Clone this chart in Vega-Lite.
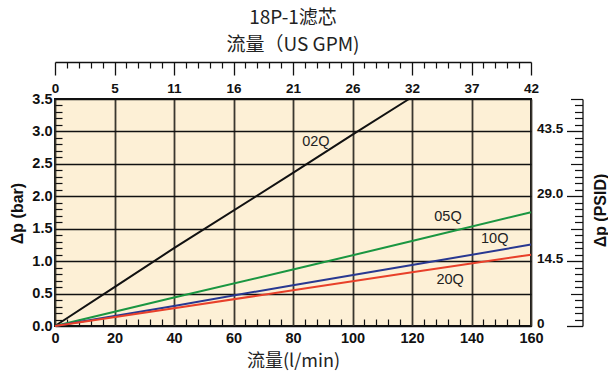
{
  "$schema": "https://vega.github.io/schema/vega-lite/v6.json",
  "width": 476,
  "height": 227,
  "autosize": {"type": "none"},
  "padding": {"left": 55, "top": 99, "right": 77, "bottom": 46},
  "background": "white",
  "view": {"fill": "#fdf0d6", "stroke": "#111111", "strokeWidth": 2},
  "title": {
    "text": ["18P-1滤芯", "流量（US GPM)"],
    "font": "Noto Sans CJK SC",
    "fontSize": 19,
    "fontWeight": "normal",
    "color": "#222222",
    "lineHeight": 27,
    "anchor": "middle",
    "offset": 6
  },
  "datasets": {
    "lines": [
      {"series": "02Q", "flow": 0, "dp": 0},
      {"series": "02Q", "flow": 20, "dp": 0.6},
      {"series": "02Q", "flow": 40, "dp": 1.2},
      {"series": "02Q", "flow": 80, "dp": 2.36},
      {"series": "02Q", "flow": 100, "dp": 2.95},
      {"series": "02Q", "flow": 119, "dp": 3.5},
      {"series": "05Q", "flow": 0, "dp": 0},
      {"series": "05Q", "flow": 40, "dp": 0.44},
      {"series": "05Q", "flow": 80, "dp": 0.87},
      {"series": "05Q", "flow": 120, "dp": 1.31},
      {"series": "05Q", "flow": 160, "dp": 1.755},
      {"series": "10Q", "flow": 0, "dp": 0},
      {"series": "10Q", "flow": 40, "dp": 0.31},
      {"series": "10Q", "flow": 80, "dp": 0.63},
      {"series": "10Q", "flow": 120, "dp": 0.94},
      {"series": "10Q", "flow": 160, "dp": 1.255},
      {"series": "20Q", "flow": 0, "dp": 0},
      {"series": "20Q", "flow": 40, "dp": 0.275},
      {"series": "20Q", "flow": 80, "dp": 0.55},
      {"series": "20Q", "flow": 120, "dp": 0.83},
      {"series": "20Q", "flow": 160, "dp": 1.1}
    ],
    "labels": [
      {"series": "02Q", "flow": 87.7, "dp": 2.83},
      {"series": "05Q", "flow": 132.1, "dp": 1.68},
      {"series": "10Q", "flow": 147.8, "dp": 1.34},
      {"series": "20Q", "flow": 132.8, "dp": 0.71}
    ]
  },
  "resolve": {"axis": {"x": "independent", "y": "independent"}},
  "layer": [
    {
      "data": {"name": "lines"},
      "mark": {"type": "line", "strokeWidth": 2},
      "encoding": {
        "x": {
          "field": "flow", "type": "quantitative",
          "scale": {"domain": [0, 160], "nice": false, "zero": false},
          "axis": {
            "orient": "bottom",
            "values": [0, 20, 40, 60, 80, 100, 120, 140, 160],
            "grid": true, "gridColor": "#3a372f", "gridWidth": 1.8,
            "ticks": false, "domain": false,
            "labelFont": "Liberation Sans", "labelFontSize": 14.5, "labelFontWeight": "bold", "labelColor": "#111111",
            "labelPadding": 5.5, "labelFlush": false, "labelOverlap": false,
            "title": "流量(l/min)", "titleFont": "Noto Sans CJK SC", "titleFontSize": 18, "titleFontWeight": "normal",
            "titleColor": "#222222", "titleY": 35, "titleBaseline": "middle"
          }
        },
        "y": {
          "field": "dp", "type": "quantitative",
          "scale": {"domain": [0, 3.5], "nice": false},
          "axis": {
            "orient": "left",
            "values": [0, 0.5, 1, 1.5, 2, 2.5, 3, 3.5],
            "format": ".1f",
            "grid": true, "gridColor": "#111111", "gridWidth": 1.4,
            "ticks": false, "domain": false,
            "labelFont": "Liberation Sans", "labelFontSize": 14.5, "labelFontWeight": "bold", "labelColor": "#111111",
            "labelPadding": 3, "labelFlush": false, "labelOverlap": false,
            "title": "Δp (bar)", "titleFont": "Liberation Sans", "titleFontSize": 16, "titleFontWeight": "bold",
            "titleColor": "#111111", "titleAngle": -90, "titleX": -38, "titleY": 114,
            "titleAlign": "center", "titleBaseline": "middle"
          }
        },
        "color": {
          "field": "series", "type": "nominal",
          "scale": {"domain": ["02Q", "05Q", "10Q", "20Q"], "range": ["#111111", "#1a9641", "#283891", "#e8402a"]},
          "legend": null
        }
      }
    },
    {
      "data": {"name": "labels"},
      "mark": {"type": "text", "font": "Liberation Sans", "fontSize": 14.5, "color": "#222222"},
      "encoding": {
        "x": {
          "field": "flow", "type": "quantitative",
          "scale": {"domain": [0, 160], "nice": false, "zero": false},
          "axis": {
            "orient": "bottom",
            "values": [4, 8, 12, 16, 24, 28, 32, 36, 44, 48, 52, 56, 64, 68, 72, 76, 84, 88, 92, 96, 104, 108, 112, 116, 124, 128, 132, 136, 144, 148, 152, 156],
            "grid": false, "labels": false, "domain": false,
            "ticks": true, "tickSize": -7, "tickColor": "#111111", "tickWidth": 1.2,
            "title": null
          }
        },
        "y": {
          "field": "dp", "type": "quantitative",
          "scale": {"domain": [0, 3.5], "nice": false},
          "axis": {
            "orient": "left",
            "values": [0.1, 0.2, 0.3, 0.4, 0.6, 0.7, 0.8, 0.9, 1.1, 1.2, 1.3, 1.4, 1.6, 1.7, 1.8, 1.9, 2.1, 2.2, 2.3, 2.4, 2.6, 2.7, 2.8, 2.9, 3.1, 3.2, 3.3, 3.4],
            "grid": false, "labels": false, "domain": false,
            "ticks": true, "tickSize": -7, "tickColor": "#111111", "tickWidth": 1.2,
            "title": null
          }
        },
        "text": {"field": "series", "type": "nominal"}
      }
    },
    {
      "data": {"name": "lines"},
      "mark": {"type": "line", "opacity": 0},
      "encoding": {
        "x": {
          "field": "flow", "type": "quantitative",
          "scale": {"domain": [0, 160], "nice": false, "zero": false},
          "axis": {
            "orient": "top", "offset": 37,
            "values": [0, 20, 40, 60, 80, 100, 120, 140, 160],
            "labelExpr": "'' + round(datum.value * 0.264172)",
            "grid": false, "ticks": false,
            "domain": true, "domainColor": "#111111", "domainWidth": 1.3,
            "labelFont": "Liberation Sans", "labelFontSize": 13.5, "labelFontWeight": "bold", "labelColor": "#111111",
            "labelPadding": -30, "labelBaseline": "alphabetic", "labelFlush": false, "labelOverlap": false,
            "title": null
          }
        },
        "y": {
          "field": "dp", "type": "quantitative",
          "scale": {"domain": [0, 3.5], "nice": false},
          "axis": {
            "orient": "right", "offset": 51.5,
            "values": [0, 1, 2, 3],
            "labelExpr": "datum.value == 0 ? '0' : format(datum.value * 14.5, '.1f')",
            "grid": false, "ticks": false,
            "domain": true, "domainColor": "#111111", "domainWidth": 1.3,
            "labelFont": "Liberation Sans", "labelFontSize": 13.5, "labelFontWeight": "bold", "labelColor": "#111111",
            "labelAlign": "left", "labelPadding": -46, "labelOffset": -2.5, "labelFlush": false, "labelOverlap": false,
            "title": "Δp (PSID)", "titleFont": "Liberation Sans", "titleFontSize": 16, "titleFontWeight": "bold",
            "titleColor": "#111111", "titleAngle": -90, "titleX": 18, "titleY": 111,
            "titleAlign": "center", "titleBaseline": "middle"
          }
        }
      }
    },
    {
      "data": {"name": "lines"},
      "mark": {"type": "line", "opacity": 0},
      "encoding": {
        "x": {
          "field": "flow", "type": "quantitative",
          "scale": {"domain": [0, 160], "nice": false, "zero": false},
          "axis": {
            "orient": "top", "offset": 37,
            "values": [0, 20, 40, 60, 80, 100, 120, 140, 160],
            "grid": false, "labels": false, "domain": false,
            "ticks": true, "tickSize": -13, "tickColor": "#111111", "tickWidth": 1.3,
            "title": null
          }
        },
        "y": {
          "field": "dp", "type": "quantitative",
          "scale": {"domain": [0, 3.5], "nice": false},
          "axis": {
            "orient": "right", "offset": 51.5,
            "values": [0, 1, 2, 3],
            "grid": false, "labels": false, "domain": false,
            "ticks": true, "tickSize": -16, "tickColor": "#111111", "tickWidth": 1.3,
            "title": null
          }
        }
      }
    },
    {
      "data": {"name": "lines"},
      "mark": {"type": "line", "opacity": 0},
      "encoding": {
        "x": {
          "field": "flow", "type": "quantitative",
          "scale": {"domain": [0, 160], "nice": false, "zero": false},
          "axis": {
            "orient": "top", "offset": 37,
            "values": [4, 8, 12, 16, 24, 28, 32, 36, 44, 48, 52, 56, 64, 68, 72, 76, 84, 88, 92, 96, 104, 108, 112, 116, 124, 128, 132, 136, 144, 148, 152, 156],
            "grid": false, "labels": false, "domain": false,
            "ticks": true, "tickSize": -6, "tickColor": "#111111", "tickWidth": 1.2,
            "title": null
          }
        },
        "y": {
          "field": "dp", "type": "quantitative",
          "scale": {"domain": [0, 3.5], "nice": false},
          "axis": {
            "orient": "right", "offset": 51.5,
            "values": [0.5, 1.5, 2.5, 3.5],
            "grid": false, "labels": false, "domain": false,
            "ticks": true, "tickSize": -12, "tickColor": "#111111", "tickWidth": 1.2,
            "title": null
          }
        }
      }
    },
    {
      "data": {"name": "lines"},
      "mark": {"type": "line", "opacity": 0},
      "encoding": {
        "x": {
          "field": "flow", "type": "quantitative",
          "scale": {"domain": [0, 160], "nice": false, "zero": false},
          "axis": null
        },
        "y": {
          "field": "dp", "type": "quantitative",
          "scale": {"domain": [0, 3.5], "nice": false},
          "axis": {
            "orient": "right", "offset": 51.5,
            "values": [0.1, 0.2, 0.3, 0.4, 0.6, 0.7, 0.8, 0.9, 1.1, 1.2, 1.3, 1.4, 1.6, 1.7, 1.8, 1.9, 2.1, 2.2, 2.3, 2.4, 2.6, 2.7, 2.8, 2.9, 3.1, 3.2, 3.3, 3.4],
            "grid": false, "labels": false, "domain": false,
            "ticks": true, "tickSize": -8, "tickColor": "#111111", "tickWidth": 1.2,
            "title": null
          }
        }
      }
    }
  ]
}
